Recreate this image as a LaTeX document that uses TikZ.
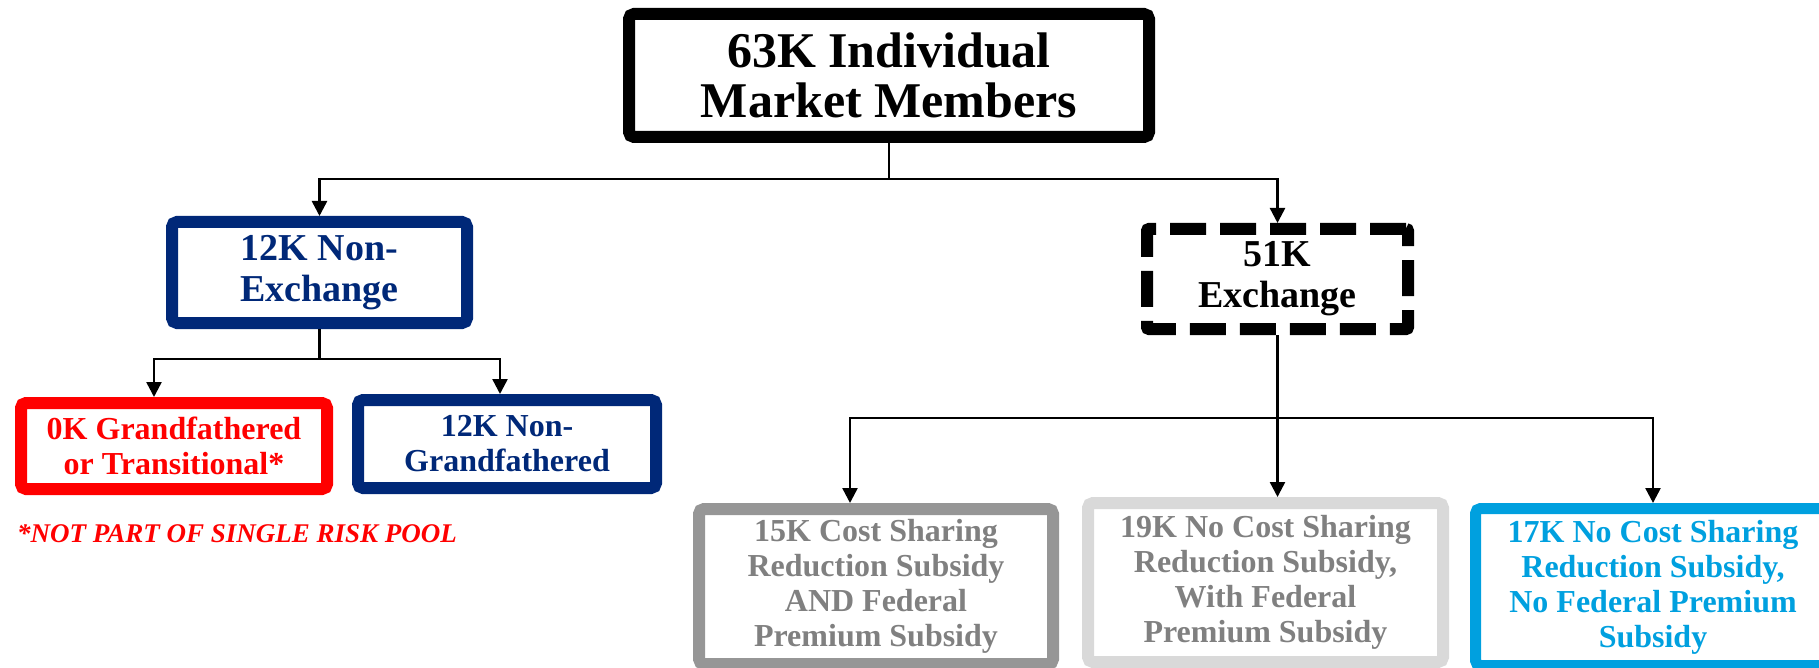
\documentclass[tikz,border=0pt]{standalone}
\usepackage{fontspec}
\setmainfont{Liberation Serif}
\usetikzlibrary{arrows.meta}
\definecolor{navyblue}{RGB}{0,40,120}
\definecolor{poolred}{RGB}{255,0,0}
\definecolor{darkgrey}{RGB}{150,150,150}
\definecolor{lightgrey}{RGB}{217,217,217}
\definecolor{greytext}{RGB}{128,128,128}
\definecolor{skyblue}{RGB}{0,160,223}
\begin{document}
\begin{tikzpicture}[x=1pt,y=-1pt,
    box/.style={draw,line width=12pt,rounded corners=5pt,inner sep=0pt,align=center},
    arr/.style={-{Triangle[length=15pt,width=15pt]},line width=2.5pt}]
    \useasboundingbox (0,0) rectangle (1819,668);
    \clip (0,0) rectangle (1819,668);

    \node[box,minimum width=520pt,minimum height=123pt,font=\fontsize{50}{50}\selectfont\bfseries] (members) at (889,75.5) {63K Individual\\Market Members};

    \node[box,draw=navyblue,text=navyblue,minimum width=295pt,minimum height=101pt,font=\fontsize{38}{41}\selectfont\bfseries] (nonexch) at (319.5,272.5) {12K Non-\\Exchange};
    \node[box,dash pattern=on 36pt off 14pt,rounded corners=2pt,minimum width=261pt,minimum height=100pt,font=\fontsize{38}{41}\selectfont\bfseries] (exch) at (1277.5,279) {51K\\Exchange};

    \node[box,draw=poolred,text=poolred,minimum width=306pt,minimum height=86pt,font=\fontsize{32}{35}\selectfont\bfseries] (grand) at (174,446) {0K Grandfathered\\or Transitional*};
    \node[box,draw=navyblue,text=navyblue,minimum width=298pt,minimum height=88pt,font=\fontsize{32}{35}\selectfont\bfseries] (nongrand) at (507,444) {12K Non-\\Grandfathered};
    \node[anchor=base west,text=poolred,inner sep=0pt,font=\fontsize{27}{30}\selectfont\bfseries\itshape] (note) at (17,542) {*NOT PART OF SINGLE RISK POOL};

    \node[box,draw=darkgrey,text=greytext,minimum width=354pt,minimum height=155pt,font=\fontsize{32}{35}\selectfont\bfseries] (cs) at (876,586.5) {15K Cost Sharing\\Reduction Subsidy\\AND Federal\\Premium Subsidy};
    \node[box,draw=lightgrey,text=greytext,minimum width=355pt,minimum height=159pt,font=\fontsize{32}{35}\selectfont\bfseries] (nocs) at (1265.5,582.5) {19K No Cost Sharing\\Reduction Subsidy,\\With Federal\\Premium Subsidy};
    \node[box,line width=11pt,draw=skyblue,text=skyblue,minimum width=355pt,minimum height=157pt,font=\fontsize{32}{35}\selectfont\bfseries] (nofed) at (1653,587) {17K No Cost Sharing\\Reduction Subsidy,\\No Federal Premium\\Subsidy};

    % top split
    \draw[arr] (members.south) -- ++(0,36) -| (nonexch.north);
    \draw[arr] (members.south) -- ++(0,36) -| (exch.north);
    % non-exchange split
    \draw[arr] (nonexch.south) -- ++(0,30) -| ([xshift=-20pt]grand.north);
    \draw[arr] (nonexch.south) -- ++(0,30) -| ([xshift=-7pt]nongrand.north);
    % exchange split
    \draw[arr] (exch.south) -- ++(0,83) -| ([xshift=-26pt]cs.north);
    \draw[arr] (exch.south) -- (exch.south |- nocs.north);
    \draw[arr] (exch.south) -- ++(0,83) -| (nofed.north);
\end{tikzpicture}
\end{document}
